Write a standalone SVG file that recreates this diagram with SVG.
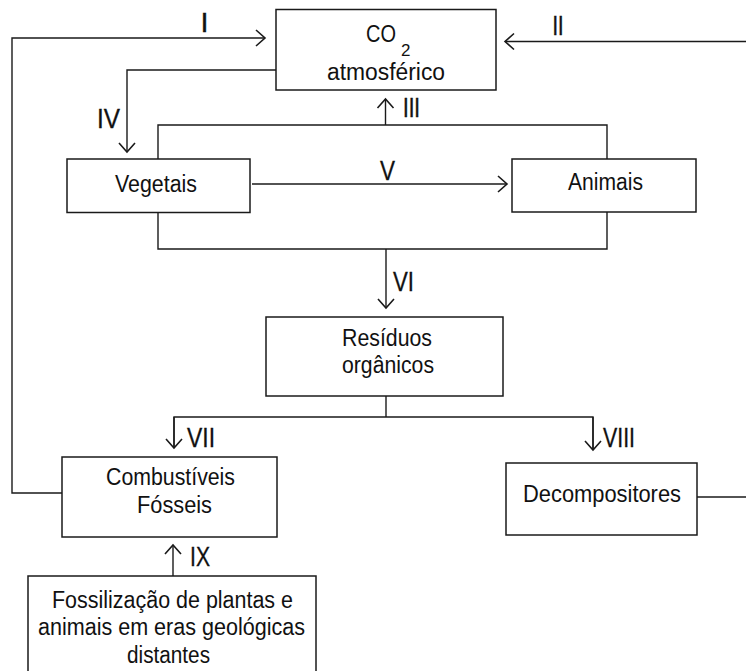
<svg xmlns="http://www.w3.org/2000/svg" width="746" height="671" viewBox="0 0 746 671">
<style>
.box{fill:#fff;stroke:#1a1a1a;stroke-width:1.5}
.ln{fill:none;stroke:#1a1a1a;stroke-width:1.4}
.t{font-family:"Liberation Sans",Arial,sans-serif;font-size:23.5px;fill:#111;text-anchor:middle}
.n{font-family:"Liberation Sans",Arial,sans-serif;font-size:27px;fill:#111}
</style>
<defs>
<marker id="arr" markerUnits="userSpaceOnUse" viewBox="-11 -10 13 20" refX="0" refY="0" markerWidth="13" markerHeight="20" orient="auto" overflow="visible">
<path d="M-9,-8 L0,0 L-9,8" fill="none" stroke="#1a1a1a" stroke-width="1.6"/>
</marker>
</defs>
<rect width="746" height="671" fill="#fff"/>
<g id="connectors">
<path class="ln" d="M62,493 H12 V38 H265" marker-end="url(#arr)"/>
<path class="ln" d="M746,41.5 H505" marker-end="url(#arr)"/>
<path class="ln" d="M276,70 H127 V152" marker-end="url(#arr)"/>
<path class="ln" d="M158,159 V125 H607 V159"/>
<path class="ln" d="M385.5,125 V99" marker-end="url(#arr)"/>
<path class="ln" d="M252,184 H507" marker-end="url(#arr)"/>
<path class="ln" d="M158,212 V249 H607 V212"/>
<path class="ln" d="M386,249 V308" marker-end="url(#arr)"/>
<path class="ln" d="M386,396 V417"/>
<path class="ln" d="M174,448 V417 H593 V450"/>
<path class="ln" d="M174,417 V448" marker-end="url(#arr)"/>
<path class="ln" d="M593,417 V450" marker-end="url(#arr)"/>
<path class="ln" d="M697,497 H746"/>
<path class="ln" d="M173,576 V545" marker-end="url(#arr)"/>
<text class="n" x="204.5" y="32" text-anchor="middle" stroke="#111" stroke-width="0.5">I</text>
<text class="n" x="558" y="35" text-anchor="middle" textLength="11" lengthAdjust="spacingAndGlyphs" stroke="#111" stroke-width="0.5">II</text>
<text class="n" x="403" y="117" textLength="17" lengthAdjust="spacingAndGlyphs" stroke="#111" stroke-width="0.5">III</text>
<text class="n" x="97" y="128" textLength="23" lengthAdjust="spacingAndGlyphs" stroke="#111" stroke-width="0.3">IV</text>
<text class="n" x="380" y="180" textLength="15" lengthAdjust="spacingAndGlyphs" stroke="#111" stroke-width="0.3">V</text>
<text class="n" x="393" y="291" textLength="21" lengthAdjust="spacingAndGlyphs" stroke="#111" stroke-width="0.3">VI</text>
<text class="n" x="187" y="447" textLength="28" lengthAdjust="spacingAndGlyphs" stroke="#111" stroke-width="0.3">VII</text>
<text class="n" x="603" y="447" textLength="32" lengthAdjust="spacingAndGlyphs" stroke="#111" stroke-width="0.3">VIII</text>
<text class="n" x="190" y="566" textLength="20" lengthAdjust="spacingAndGlyphs" stroke="#111" stroke-width="0.3">IX</text>
</g>
<g id="co2">
<rect class="box" x="276" y="9.5" width="220" height="80.5"/>
<text class="t" x="366" y="42" textLength="30" lengthAdjust="spacingAndGlyphs" style="text-anchor:start">CO</text>
<text x="401" y="56" font-family="Liberation Sans,Arial,sans-serif" font-size="17" fill="#111">2</text>
<text class="t" x="386" y="80" textLength="118" lengthAdjust="spacingAndGlyphs">atmosférico</text>
</g>
<g id="vegetais">
<rect class="box" x="67" y="159" width="183" height="53.5"/>
<text class="t" x="156" y="192" textLength="82" lengthAdjust="spacingAndGlyphs">Vegetais</text>
</g>
<g id="animais">
<rect class="box" x="512" y="159" width="184" height="53"/>
<text class="t" x="605.5" y="190" textLength="75" lengthAdjust="spacingAndGlyphs">Animais</text>
</g>
<g id="residuos">
<rect class="box" x="266" y="317" width="237" height="79"/>
<text class="t" x="387" y="346" textLength="90" lengthAdjust="spacingAndGlyphs">Resíduos</text>
<text class="t" x="388" y="373" textLength="92" lengthAdjust="spacingAndGlyphs">orgânicos</text>
</g>
<g id="combustiveis">
<rect class="box" x="62" y="457" width="215" height="80"/>
<text class="t" x="170.5" y="485" textLength="129" lengthAdjust="spacingAndGlyphs">Combustíveis</text>
<text class="t" x="174.5" y="513" textLength="75" lengthAdjust="spacingAndGlyphs">Fósseis</text>
</g>
<g id="decompositores">
<rect class="box" x="506" y="463" width="191" height="72"/>
<text class="t" x="602" y="502" textLength="158" lengthAdjust="spacingAndGlyphs">Decompositores</text>
</g>
<g id="fossilizacao">
<rect class="box" x="28" y="576" width="288" height="110"/>
<text class="t" x="172.5" y="608" textLength="241" lengthAdjust="spacingAndGlyphs">Fossilização de plantas e</text>
<text class="t" x="171.5" y="635" textLength="267" lengthAdjust="spacingAndGlyphs">animais em eras geológicas</text>
<text class="t" x="168.5" y="663" textLength="83" lengthAdjust="spacingAndGlyphs">distantes</text>
</g>
</svg>
